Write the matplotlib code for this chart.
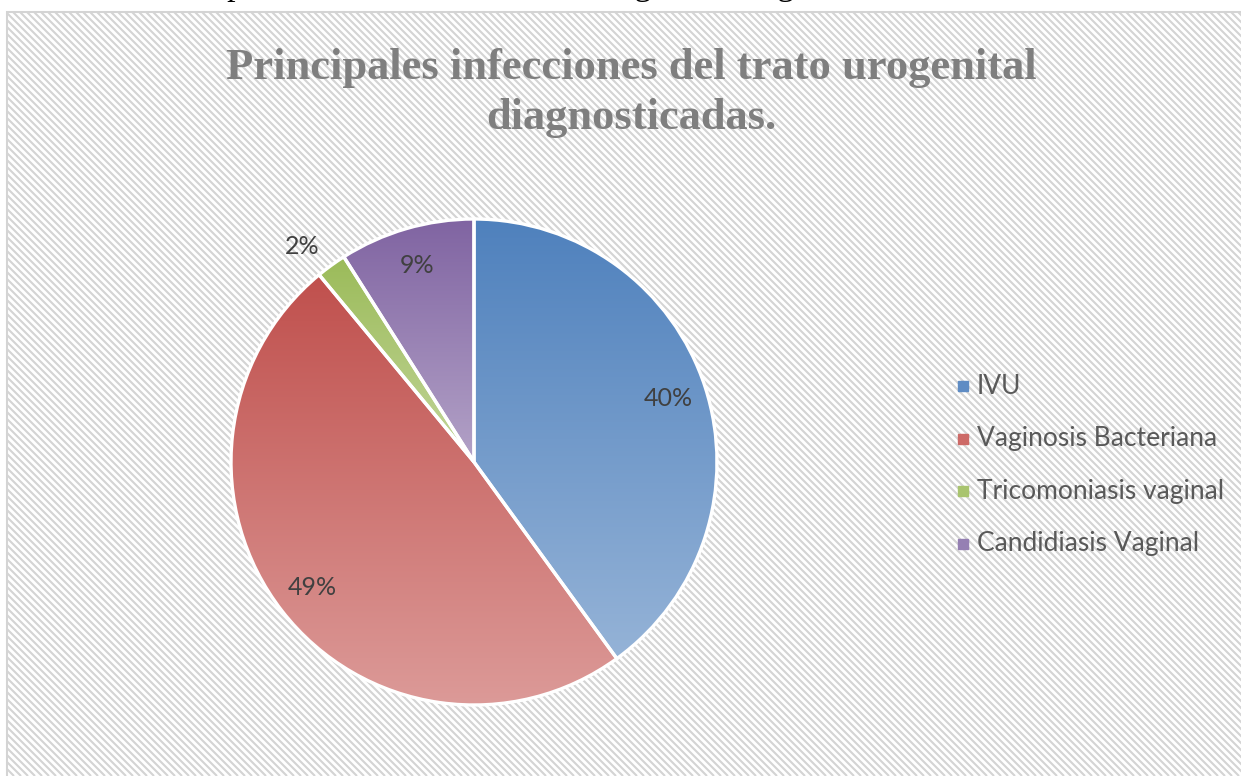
import numpy as np
import matplotlib
matplotlib.use("Agg")
import matplotlib.pyplot as plt
from matplotlib.colors import LinearSegmentedColormap
from matplotlib.patches import Rectangle

# data
labels = ["IVU", "Vaginosis Bacteriana", "Tricomoniasis vaginal", "Candidiasis Vaginal"]
values = [40, 49, 2, 9]
top_colors = ["#4f81bd", "#c0504d", "#9bbb59", "#8064a2"]
bottom_colors = ["#95b3d7", "#dc9a98", "#c3d69b", "#b3a2c7"]
legend_colors = ["#5f8cc4", "#cd6a67", "#a9c46f", "#9580b3"]
title = "Principales infecciones del trato urogenital\ndiagnosticadas."
caption = "Principales infecciones del trato urogenital diagnosticadas"

W, H = 1241, 776
fig = plt.figure(figsize=(W / 100, H / 100), dpi=100)
fig.patch.set_facecolor("white")

# background axes in pixel units (y measured upward)
bg = fig.add_axes([0, 0, 1, 1])
bg.set_xlim(0, W)
bg.set_ylim(0, H)
bg.axis("off")

frame = Rectangle((7, -10), W + 20, H - 12 + 10, facecolor="white",
                  edgecolor="#d4d4d4", lw=1.5, zorder=1)
bg.add_patch(frame)
step = 7
for c in np.arange(0, W + H + step, step):
    ln, = bg.plot([c - H, c], [H, 0], color="#d4d4d4", lw=1.5, zorder=2,
                  solid_capstyle="butt")
    ln.set_clip_path(frame)

# cut-off caption line above the chart
fig.text(146 / W, 1 + 4.5 / H, caption, fontsize=24.5, family="Liberation Serif",
         color="black", va="baseline", ha="left")

# title
bg.text(631, H - 68, title.split("\n")[0], ha="center", va="center",
        fontsize=32, fontweight="bold", family="Liberation Serif", color="#7f7f7f", zorder=5)
bg.text(631, H - 118, title.split("\n")[1], ha="center", va="center",
        fontsize=32, fontweight="bold", family="Liberation Serif", color="#7f7f7f", zorder=5)

# pie axes: centre (474, 462), radius 243 px
cx, cy, r = 474, 462, 243
ax = fig.add_axes([(cx - r) / W, (H - cy - r) / H, 2 * r / W, 2 * r / H])
ax.patch.set_alpha(0)
wedges, texts, autotexts = ax.pie(values, startangle=90, counterclock=False,
                                  radius=1, autopct="%1.0f%%", pctdistance=0.84,
                                  wedgeprops=dict(edgecolor="white", linewidth=2.4),
                                  textprops=dict(family="Lato", fontsize=18, color="#404040"))
for w, tc, bc in zip(wedges, top_colors, bottom_colors):
    bb = w.get_path().get_extents()
    cmap = LinearSegmentedColormap.from_list("g", [bc, tc])
    grad = np.linspace(0, 1, 256).reshape(-1, 1)
    im = ax.imshow(grad, extent=[bb.x0, bb.x1, bb.y0, bb.y1], origin="lower",
                   cmap=cmap, aspect="auto", zorder=1)
    im.set_clip_path(w)
    w.set_facecolor("none")
    w.set_zorder(2)
for t in autotexts:
    t.set_zorder(3)

# small slice label sits outside
i_small = int(np.argmin(values))
ang = np.deg2rad(90 - 360 * (sum(values[:i_small]) + values[i_small] / 2) / sum(values))
autotexts[i_small].set_position((1.12 * np.cos(ang) - 0.05, 1.12 * np.sin(ang) - 0.02))

ax.set_xlim(-1, 1)
ax.set_ylim(-1, 1)
ax.set_aspect("equal")
ax.axis("off")

# legend
for i, (lab, col) in enumerate(zip(labels, legend_colors)):
    y = H - (386 + 52.5 * i)
    bg.plot([963], [y], marker="s", markersize=6.5, color=col, zorder=5, lw=0)
    bg.text(977, y, lab, va="center", ha="left", fontsize=19, family="Lato",
            color="#595959", zorder=5)

fig.savefig("out.png", dpi=100)
